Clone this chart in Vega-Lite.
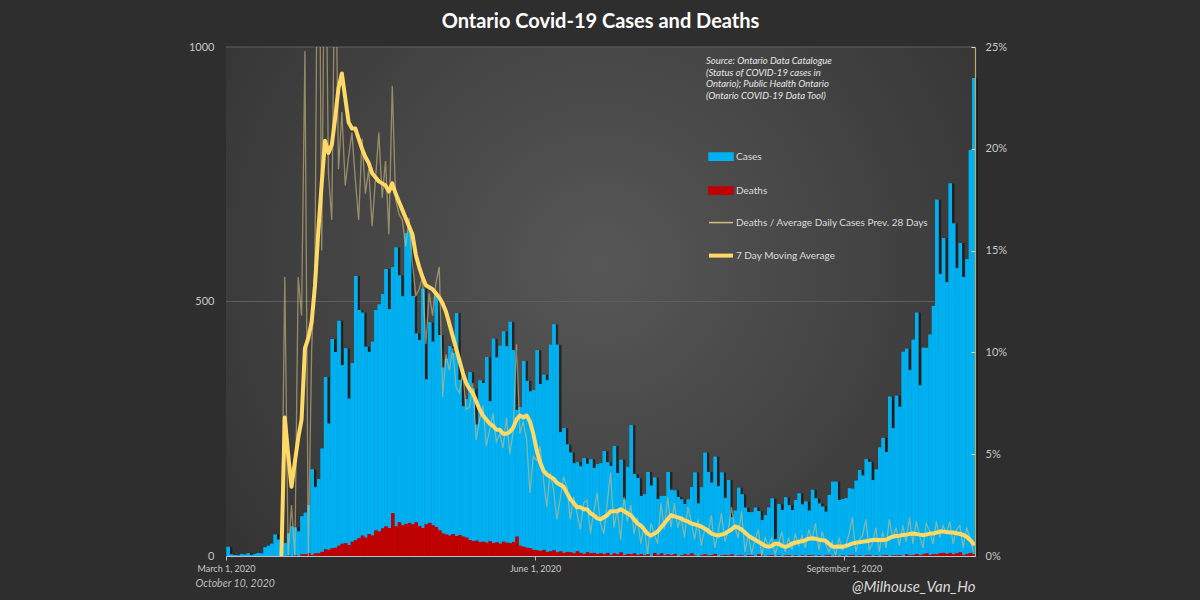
{
"$schema":"https://vega.github.io/schema/vega-lite/v6.json",
"width":749,"height":509,
"autosize":{"type":"none"},
"padding":{"left":226,"top":47,"right":225,"bottom":44},
"background":"#2e2e2e",
"config":{"view":{"stroke":null},"font":"Lato"},
"title":{"text":"Ontario Covid-19 Cases and Deaths","color":"#ffffff","fontSize":20,"fontWeight":"bold","font":"Lato","anchor":"middle","frame":"group","offset":9},
"data":{"values":[
{"date":"2020-03-01","cases":18,"deaths":0},
{"date":"2020-03-02","cases":3,"deaths":0},
{"date":"2020-03-03","cases":2,"deaths":0},
{"date":"2020-03-04","cases":1,"deaths":0},
{"date":"2020-03-05","cases":4,"deaths":0},
{"date":"2020-03-06","cases":3,"deaths":0},
{"date":"2020-03-07","cases":5,"deaths":0},
{"date":"2020-03-08","cases":2,"deaths":0},
{"date":"2020-03-09","cases":4,"deaths":0},
{"date":"2020-03-10","cases":6,"deaths":0},
{"date":"2020-03-11","cases":5,"deaths":0},
{"date":"2020-03-12","cases":17,"deaths":0},
{"date":"2020-03-13","cases":20,"deaths":0},
{"date":"2020-03-14","cases":24,"deaths":0},
{"date":"2020-03-15","cases":42,"deaths":0},
{"date":"2020-03-16","cases":32,"deaths":0},
{"date":"2020-03-17","cases":12,"deaths":1,"ratio":0,"ma":0},
{"date":"2020-03-18","cases":25,"deaths":0,"ratio":13.7,"ma":6.8},
{"date":"2020-03-19","cases":44,"deaths":1,"ratio":0,"ma":5.0},
{"date":"2020-03-20","cases":58,"deaths":0,"ratio":2.5,"ma":3.4},
{"date":"2020-03-21","cases":56,"deaths":2,"ratio":0,"ma":4.6},
{"date":"2020-03-22","cases":48,"deaths":0,"ratio":13.7,"ma":5.8},
{"date":"2020-03-23","cases":78,"deaths":3,"ratio":11.8,"ma":6.7},
{"date":"2020-03-24","cases":85,"deaths":3,"ratio":24.8,"ma":10.2},
{"date":"2020-03-25","cases":100,"deaths":5,"ratio":0,"ma":10.7},
{"date":"2020-03-26","cases":170,"deaths":2,"ratio":10.1,"ma":11.5},
{"date":"2020-03-27","cases":135,"deaths":5,"ratio":14.5,"ma":13.3},
{"date":"2020-03-28","cases":151,"deaths":5,"ratio":38,"ma":16.0},
{"date":"2020-03-29","cases":211,"deaths":8,"ratio":15.0,"ma":18.3},
{"date":"2020-03-30","cases":351,"deaths":13,"ratio":34,"ma":20.4},
{"date":"2020-03-31","cases":260,"deaths":12,"ratio":18.8,"ma":19.8},
{"date":"2020-04-01","cases":426,"deaths":15,"ratio":16.5,"ma":20.2},
{"date":"2020-04-02","cases":401,"deaths":16,"ratio":31,"ma":21.5},
{"date":"2020-04-03","cases":462,"deaths":20,"ratio":19.0,"ma":23.0},
{"date":"2020-04-04","cases":375,"deaths":24,"ratio":21.8,"ma":23.7},
{"date":"2020-04-05","cases":408,"deaths":25,"ratio":18.2,"ma":22.5},
{"date":"2020-04-06","cases":309,"deaths":21,"ratio":19.6,"ma":21.3},
{"date":"2020-04-07","cases":379,"deaths":28,"ratio":20.8,"ma":21.0},
{"date":"2020-04-08","cases":550,"deaths":31,"ratio":18.5,"ma":21.0},
{"date":"2020-04-09","cases":483,"deaths":35,"ratio":16.5,"ma":20.5},
{"date":"2020-04-10","cases":478,"deaths":40,"ratio":20.5,"ma":20.0},
{"date":"2020-04-11","cases":411,"deaths":36,"ratio":17.8,"ma":19.6},
{"date":"2020-04-12","cases":401,"deaths":43,"ratio":19.0,"ma":19.3},
{"date":"2020-04-13","cases":421,"deaths":40,"ratio":16.2,"ma":18.8},
{"date":"2020-04-14","cases":483,"deaths":50,"ratio":18.5,"ma":18.6},
{"date":"2020-04-15","cases":494,"deaths":48,"ratio":20.8,"ma":18.4},
{"date":"2020-04-16","cases":514,"deaths":54,"ratio":17.6,"ma":18.3},
{"date":"2020-04-17","cases":564,"deaths":58,"ratio":19.4,"ma":18.2},
{"date":"2020-04-18","cases":485,"deaths":55,"ratio":15.8,"ma":17.9},
{"date":"2020-04-19","cases":568,"deaths":84,"ratio":23.1,"ma":18.3},
{"date":"2020-04-20","cases":606,"deaths":58,"ratio":17.5,"ma":17.8},
{"date":"2020-04-21","cases":551,"deaths":66,"ratio":16.8,"ma":17.4},
{"date":"2020-04-22","cases":510,"deaths":60,"ratio":16.5,"ma":17.0},
{"date":"2020-04-23","cases":634,"deaths":63,"ratio":15.2,"ma":16.6},
{"date":"2020-04-24","cases":640,"deaths":65,"ratio":16.6,"ma":16.2},
{"date":"2020-04-25","cases":511,"deaths":62,"ratio":14.4,"ma":15.8},
{"date":"2020-04-26","cases":437,"deaths":66,"ratio":12.8,"ma":14.8},
{"date":"2020-04-27","cases":424,"deaths":59,"ratio":13.1,"ma":14.2},
{"date":"2020-04-28","cases":525,"deaths":55,"ratio":13.7,"ma":13.7},
{"date":"2020-04-29","cases":347,"deaths":62,"ratio":10.4,"ma":13.3},
{"date":"2020-04-30","cases":459,"deaths":65,"ratio":12.9,"ma":13.2},
{"date":"2020-05-01","cases":421,"deaths":60,"ratio":11.8,"ma":13.1},
{"date":"2020-05-02","cases":511,"deaths":57,"ratio":13.4,"ma":12.9},
{"date":"2020-05-03","cases":434,"deaths":50,"ratio":14.2,"ma":12.7},
{"date":"2020-05-04","cases":370,"deaths":44,"ratio":7.8,"ma":12.4},
{"date":"2020-05-05","cases":387,"deaths":42,"ratio":9.9,"ma":12.0},
{"date":"2020-05-06","cases":412,"deaths":40,"ratio":9.1,"ma":11.4},
{"date":"2020-05-07","cases":399,"deaths":43,"ratio":10.2,"ma":10.8},
{"date":"2020-05-08","cases":477,"deaths":39,"ratio":8.3,"ma":10.2},
{"date":"2020-05-09","cases":346,"deaths":41,"ratio":8.0,"ma":9.6},
{"date":"2020-05-10","cases":294,"deaths":38,"ratio":9.0,"ma":9.0},
{"date":"2020-05-11","cases":308,"deaths":36,"ratio":7.2,"ma":8.5},
{"date":"2020-05-12","cases":361,"deaths":31,"ratio":7.3,"ma":8.2},
{"date":"2020-05-13","cases":329,"deaths":29,"ratio":8.5,"ma":8.0},
{"date":"2020-05-14","cases":258,"deaths":30,"ratio":5.7,"ma":7.6},
{"date":"2020-05-15","cases":345,"deaths":27,"ratio":6.7,"ma":7.2},
{"date":"2020-05-16","cases":340,"deaths":28,"ratio":7.4,"ma":6.9},
{"date":"2020-05-17","cases":391,"deaths":26,"ratio":5.4,"ma":6.7},
{"date":"2020-05-18","cases":304,"deaths":29,"ratio":6.2,"ma":6.5},
{"date":"2020-05-19","cases":427,"deaths":25,"ratio":7.0,"ma":6.4},
{"date":"2020-05-20","cases":390,"deaths":27,"ratio":5.6,"ma":6.2},
{"date":"2020-05-21","cases":413,"deaths":24,"ratio":6.0,"ma":6.2},
{"date":"2020-05-22","cases":441,"deaths":28,"ratio":5.3,"ma":6.0},
{"date":"2020-05-23","cases":412,"deaths":26,"ratio":6.8,"ma":6.0},
{"date":"2020-05-24","cases":460,"deaths":25,"ratio":5.0,"ma":6.1},
{"date":"2020-05-25","cases":404,"deaths":27,"ratio":6.1,"ma":6.3},
{"date":"2020-05-26","cases":287,"deaths":38,"ratio":10.4,"ma":6.7},
{"date":"2020-05-27","cases":292,"deaths":20,"ratio":6.0,"ma":6.9},
{"date":"2020-05-28","cases":383,"deaths":18,"ratio":6.6,"ma":6.8},
{"date":"2020-05-29","cases":344,"deaths":16,"ratio":5.7,"ma":6.9},
{"date":"2020-05-30","cases":323,"deaths":15,"ratio":3.1,"ma":6.6},
{"date":"2020-05-31","cases":326,"deaths":12,"ratio":4.9,"ma":6.0},
{"date":"2020-06-01","cases":404,"deaths":11,"ratio":4.7,"ma":5.2},
{"date":"2020-06-02","cases":338,"deaths":10,"ratio":5.4,"ma":4.6},
{"date":"2020-06-03","cases":356,"deaths":12,"ratio":3.8,"ma":4.2},
{"date":"2020-06-04","cases":345,"deaths":8,"ratio":2.4,"ma":4.0},
{"date":"2020-06-05","cases":415,"deaths":9,"ratio":4.1,"ma":3.9},
{"date":"2020-06-06","cases":455,"deaths":11,"ratio":3.3,"ma":3.8},
{"date":"2020-06-07","cases":415,"deaths":7,"ratio":1.8,"ma":3.6},
{"date":"2020-06-08","cases":243,"deaths":9,"ratio":2.8,"ma":3.5},
{"date":"2020-06-09","cases":251,"deaths":6,"ratio":3.9,"ma":3.4},
{"date":"2020-06-10","cases":219,"deaths":8,"ratio":3.4,"ma":3.1},
{"date":"2020-06-11","cases":203,"deaths":7,"ratio":1.8,"ma":2.8},
{"date":"2020-06-12","cases":182,"deaths":5,"ratio":2.9,"ma":2.6},
{"date":"2020-06-13","cases":184,"deaths":9,"ratio":2.1,"ma":2.4},
{"date":"2020-06-14","cases":176,"deaths":6,"ratio":1.3,"ma":2.4},
{"date":"2020-06-15","cases":192,"deaths":4,"ratio":2.6,"ma":2.3},
{"date":"2020-06-16","cases":181,"deaths":7,"ratio":2.75,"ma":2.3},
{"date":"2020-06-17","cases":190,"deaths":5,"ratio":1.1,"ma":2.1},
{"date":"2020-06-18","cases":173,"deaths":6,"ratio":2.2,"ma":2.0},
{"date":"2020-06-19","cases":180,"deaths":4,"ratio":3.1,"ma":1.85},
{"date":"2020-06-20","cases":182,"deaths":5,"ratio":1.6,"ma":1.8},
{"date":"2020-06-21","cases":206,"deaths":3,"ratio":1.1,"ma":1.9},
{"date":"2020-06-22","cases":184,"deaths":6,"ratio":2.6,"ma":2.0},
{"date":"2020-06-23","cases":177,"deaths":2,"ratio":4.1,"ma":2.2},
{"date":"2020-06-24","cases":216,"deaths":5,"ratio":1.4,"ma":2.2},
{"date":"2020-06-25","cases":163,"deaths":3,"ratio":2.3,"ma":2.2},
{"date":"2020-06-26","cases":189,"deaths":7,"ratio":0.8,"ma":2.3},
{"date":"2020-06-27","cases":111,"deaths":2,"ratio":2.9,"ma":2.2},
{"date":"2020-06-28","cases":175,"deaths":4,"ratio":1.7,"ma":2.1},
{"date":"2020-06-29","cases":257,"deaths":3,"ratio":2.5,"ma":2.0},
{"date":"2020-06-30","cases":161,"deaths":5,"ratio":1.1,"ma":1.8},
{"date":"2020-07-01","cases":153,"deaths":2,"ratio":1.9,"ma":1.6},
{"date":"2020-07-02","cases":118,"deaths":4,"ratio":0.6,"ma":1.5},
{"date":"2020-07-03","cases":121,"deaths":1,"ratio":1.5,"ma":1.3},
{"date":"2020-07-04","cases":165,"deaths":3,"ratio":0.1,"ma":1.1},
{"date":"2020-07-05","cases":138,"deaths":0,"ratio":1.6,"ma":1.0},
{"date":"2020-07-06","cases":154,"deaths":6,"ratio":1.1,"ma":1.1},
{"date":"2020-07-07","cases":112,"deaths":2,"ratio":0.6,"ma":1.2},
{"date":"2020-07-08","cases":118,"deaths":5,"ratio":2.6,"ma":1.4},
{"date":"2020-07-09","cases":118,"deaths":1,"ratio":1.3,"ma":1.6},
{"date":"2020-07-10","cases":165,"deaths":3,"ratio":2.9,"ma":1.8},
{"date":"2020-07-11","cases":130,"deaths":2,"ratio":1.4,"ma":2.0},
{"date":"2020-07-12","cases":129,"deaths":4,"ratio":2.6,"ma":1.95},
{"date":"2020-07-13","cases":116,"deaths":0,"ratio":1.4,"ma":1.9},
{"date":"2020-07-14","cases":111,"deaths":1,"ratio":1.9,"ma":1.85},
{"date":"2020-07-15","cases":102,"deaths":3,"ratio":0.9,"ma":1.75},
{"date":"2020-07-16","cases":111,"deaths":2,"ratio":2.4,"ma":1.7},
{"date":"2020-07-17","cases":135,"deaths":5,"ratio":1.7,"ma":1.6},
{"date":"2020-07-18","cases":164,"deaths":1,"ratio":0.8,"ma":1.55},
{"date":"2020-07-19","cases":103,"deaths":0,"ratio":1.8,"ma":1.5},
{"date":"2020-07-20","cases":135,"deaths":2,"ratio":0.5,"ma":1.45},
{"date":"2020-07-21","cases":203,"deaths":3,"ratio":1.3,"ma":1.35},
{"date":"2020-07-22","cases":165,"deaths":1,"ratio":1.1,"ma":1.25},
{"date":"2020-07-23","cases":144,"deaths":2,"ratio":2.0,"ma":1.1},
{"date":"2020-07-24","cases":195,"deaths":4,"ratio":0.4,"ma":1.05},
{"date":"2020-07-25","cases":137,"deaths":0,"ratio":1.1,"ma":1.0},
{"date":"2020-07-26","cases":164,"deaths":1,"ratio":2.1,"ma":1.05},
{"date":"2020-07-27","cases":114,"deaths":2,"ratio":0.7,"ma":1.1},
{"date":"2020-07-28","cases":149,"deaths":1,"ratio":1.2,"ma":1.2},
{"date":"2020-07-29","cases":76,"deaths":3,"ratio":2.4,"ma":1.3},
{"date":"2020-07-30","cases":89,"deaths":0,"ratio":1.4,"ma":1.45},
{"date":"2020-07-31","cases":134,"deaths":1,"ratio":0.9,"ma":1.4},
{"date":"2020-08-01","cases":121,"deaths":1,"ratio":2.2,"ma":1.3},
{"date":"2020-08-02","cases":95,"deaths":0,"ratio":0.2,"ma":1.15},
{"date":"2020-08-03","cases":86,"deaths":2,"ratio":1.1,"ma":1.0},
{"date":"2020-08-04","cases":86,"deaths":1,"ratio":0.1,"ma":0.9},
{"date":"2020-08-05","cases":95,"deaths":0,"ratio":0.8,"ma":0.8},
{"date":"2020-08-06","cases":88,"deaths":3,"ratio":1.3,"ma":0.7},
{"date":"2020-08-07","cases":70,"deaths":1,"ratio":0.0,"ma":0.6},
{"date":"2020-08-08","cases":80,"deaths":0,"ratio":0.9,"ma":0.5},
{"date":"2020-08-09","cases":95,"deaths":1,"ratio":0.5,"ma":0.45},
{"date":"2020-08-10","cases":113,"deaths":2,"ratio":0.9,"ma":0.5},
{"date":"2020-08-11","cases":33,"deaths":0,"ratio":0.1,"ma":0.6},
{"date":"2020-08-12","cases":102,"deaths":1,"ratio":0.6,"ma":0.6},
{"date":"2020-08-13","cases":90,"deaths":0,"ratio":1.2,"ma":0.5},
{"date":"2020-08-14","cases":115,"deaths":1,"ratio":0.2,"ma":0.45},
{"date":"2020-08-15","cases":100,"deaths":2,"ratio":0.9,"ma":0.5},
{"date":"2020-08-16","cases":90,"deaths":0,"ratio":0.3,"ma":0.6},
{"date":"2020-08-17","cases":110,"deaths":1,"ratio":1.1,"ma":0.65},
{"date":"2020-08-18","cases":123,"deaths":0,"ratio":0.5,"ma":0.7},
{"date":"2020-08-19","cases":101,"deaths":1,"ratio":1.0,"ma":0.72},
{"date":"2020-08-20","cases":107,"deaths":0,"ratio":0.4,"ma":0.78},
{"date":"2020-08-21","cases":89,"deaths":2,"ratio":1.3,"ma":0.85},
{"date":"2020-08-22","cases":130,"deaths":1,"ratio":0.8,"ma":0.87},
{"date":"2020-08-23","cases":113,"deaths":0,"ratio":1.6,"ma":0.85},
{"date":"2020-08-24","cases":103,"deaths":1,"ratio":0.3,"ma":0.8},
{"date":"2020-08-25","cases":97,"deaths":0,"ratio":1.2,"ma":0.78},
{"date":"2020-08-26","cases":87,"deaths":1,"ratio":0.6,"ma":0.75},
{"date":"2020-08-27","cases":120,"deaths":2,"ratio":0.2,"ma":0.6},
{"date":"2020-08-28","cases":146,"deaths":0,"ratio":0.7,"ma":0.47},
{"date":"2020-08-29","cases":146,"deaths":1,"ratio":0.0,"ma":0.45},
{"date":"2020-08-30","cases":110,"deaths":0,"ratio":0.9,"ma":0.47},
{"date":"2020-08-31","cases":112,"deaths":1,"ratio":0.3,"ma":0.45},
{"date":"2020-09-01","cases":114,"deaths":0,"ratio":0.5,"ma":0.5},
{"date":"2020-09-02","cases":133,"deaths":1,"ratio":1.1,"ma":0.55},
{"date":"2020-09-03","cases":132,"deaths":2,"ratio":1.9,"ma":0.62},
{"date":"2020-09-04","cases":148,"deaths":0,"ratio":0.2,"ma":0.65},
{"date":"2020-09-05","cases":169,"deaths":1,"ratio":0.8,"ma":0.68},
{"date":"2020-09-06","cases":158,"deaths":0,"ratio":1.0,"ma":0.7},
{"date":"2020-09-07","cases":190,"deaths":1,"ratio":1.8,"ma":0.72},
{"date":"2020-09-08","cases":185,"deaths":2,"ratio":0.3,"ma":0.75},
{"date":"2020-09-09","cases":149,"deaths":0,"ratio":0.6,"ma":0.79},
{"date":"2020-09-10","cases":170,"deaths":1,"ratio":1.4,"ma":0.8},
{"date":"2020-09-11","cases":213,"deaths":0,"ratio":0.2,"ma":0.79},
{"date":"2020-09-12","cases":232,"deaths":1,"ratio":1.2,"ma":0.79},
{"date":"2020-09-13","cases":204,"deaths":2,"ratio":0.4,"ma":0.8},
{"date":"2020-09-14","cases":313,"deaths":0,"ratio":1.8,"ma":0.88},
{"date":"2020-09-15","cases":251,"deaths":1,"ratio":0.9,"ma":0.95},
{"date":"2020-09-16","cases":315,"deaths":1,"ratio":1.4,"ma":0.98},
{"date":"2020-09-17","cases":293,"deaths":2,"ratio":0.5,"ma":1.0},
{"date":"2020-09-18","cases":401,"deaths":0,"ratio":1.5,"ma":1.03},
{"date":"2020-09-19","cases":407,"deaths":3,"ratio":0.7,"ma":1.05},
{"date":"2020-09-20","cases":365,"deaths":1,"ratio":1.9,"ma":1.08},
{"date":"2020-09-21","cases":425,"deaths":2,"ratio":0.6,"ma":1.1},
{"date":"2020-09-22","cases":478,"deaths":4,"ratio":1.7,"ma":1.08},
{"date":"2020-09-23","cases":335,"deaths":1,"ratio":1.0,"ma":1.05},
{"date":"2020-09-24","cases":409,"deaths":3,"ratio":0.4,"ma":1.03},
{"date":"2020-09-25","cases":409,"deaths":5,"ratio":1.6,"ma":1.05},
{"date":"2020-09-26","cases":435,"deaths":2,"ratio":1.2,"ma":1.1},
{"date":"2020-09-27","cases":491,"deaths":4,"ratio":0.6,"ma":1.1},
{"date":"2020-09-28","cases":700,"deaths":3,"ratio":1.7,"ma":1.15},
{"date":"2020-09-29","cases":554,"deaths":5,"ratio":0.9,"ma":1.2},
{"date":"2020-09-30","cases":625,"deaths":6,"ratio":1.5,"ma":1.2},
{"date":"2020-10-01","cases":538,"deaths":4,"ratio":1.1,"ma":1.18},
{"date":"2020-10-02","cases":732,"deaths":6,"ratio":1.7,"ma":1.15},
{"date":"2020-10-03","cases":653,"deaths":3,"ratio":0.6,"ma":1.15},
{"date":"2020-10-04","cases":566,"deaths":5,"ratio":1.3,"ma":1.12},
{"date":"2020-10-05","cases":615,"deaths":7,"ratio":1.5,"ma":1.08},
{"date":"2020-10-06","cases":548,"deaths":2,"ratio":0.4,"ma":1.03},
{"date":"2020-10-07","cases":583,"deaths":4,"ratio":1.4,"ma":0.95},
{"date":"2020-10-08","cases":797,"deaths":6,"ratio":0.9,"ma":0.8},
{"date":"2020-10-09","cases":939,"deaths":3,"ratio":0.2,"ma":0.6}
]},
"layer":[
{"layer":[
 {"data":{"values":[{}]},"mark":{"type":"rect","fill":{"gradient":"radial","x1":0.5,"y1":0.45,"x2":0.5,"y2":0.45,"r1":0,"r2":0.75,"stops":[{"offset":0,"color":"#575757"},{"offset":1,"color":"#2d2d2d"}]}},"encoding":{}},
 {"data":{"values":[{"v":500},{"v":1000}]},"mark":{"type":"rule","color":"#5e5e5e","strokeWidth":1},"encoding":{"y":{"field":"v","type":"quantitative"}}},
 {"mark":{"type":"bar","color":"#141414","opacity":0.7,"xOffset":2.5,"binSpacing":0},"encoding":{
   "x":{"field":"date","timeUnit":"utcyearmonthdate","type":"temporal"},
   "y":{"field":"cases","type":"quantitative"}}},
 {"mark":{"type":"bar","binSpacing":0},"encoding":{
   "x":{"field":"date","timeUnit":"utcyearmonthdate","type":"temporal",
     "scale":{"domain":[{"year":2020,"month":3,"date":1,"utc":true},{"year":2020,"month":10,"date":10,"utc":true}]},
     "axis":{"values":[{"year":2020,"month":3,"date":1,"utc":true},{"year":2020,"month":6,"date":1,"utc":true},{"year":2020,"month":9,"date":1,"utc":true}],
       "format":"%B %-d, %Y","labelFontSize":9,"labelColor":"#c8c8c8","labelAlign":"center","labelFlush":false,"labelOverlap":false,"labelPadding":4,
       "domainColor":"#bfbfbf","tickColor":"#bfbfbf","tickSize":4,"grid":false,"zindex":1,
       "title":"October 10, 2020","titleFontStyle":"italic","titleFontWeight":"normal","titleFontSize":10.5,"titleColor":"#bdbdbd",
       "titleAlign":"left","titleAnchor":"start","titleX":-31,"titleY":27,"titleBaseline":"middle"}},
   "y":{"field":"cases","type":"quantitative","scale":{"domain":[0,1000],"nice":false},
     "axis":{"values":[0,500,1000],"format":"d","grid":false,"domain":false,"ticks":false,"labelColor":"#c8c8c8","labelFontSize":11,"labelPadding":12,"title":null,"zindex":1}},
   "color":{"datum":"Cases","type":"nominal",
     "scale":{"domain":["Cases","Deaths","Deaths / Average Daily Cases Prev. 28 Days","7 Day Moving Average"],"range":["#00B0F0","#C00000","#D2BE82","#FFD966"]},
     "legend":{"orient":"none","legendX":480,"legendY":9,"direction":"vertical","padding":0,
       "title":["Source: Ontario Data Catalogue","(Status of COVID-19 cases in","Ontario); Public Health Ontario","(Ontario COVID-19 Data Tool)"],
       "titleFontStyle":"italic","titleFontWeight":"normal","titleFontSize":9.5,"titleColor":"#e6e6e6","titleLineHeight":11.7,"titlePadding":51,"titleLimit":400,"titleFont":"Lato",
       "labelFontSize":10,"labelColor":"#dcdcdc","labelFont":"Lato","labelLimit":400,"labelOffset":10,"symbolOffset":10,
       "symbolSize":576,"rowPadding":20,
       "encode":{"symbols":{"update":{
         "shape":{"signal":"(datum.label === 'Cases' || datum.label === 'Deaths') ? 'M-1,-0.3H1V0.3H-1Z' : 'stroke'"},
         "fill":{"signal":"datum.label === 'Cases' ? '#00B0F0' : (datum.label === 'Deaths' ? '#C00000' : 'transparent')"},
         "stroke":{"signal":"datum.label === '7 Day Moving Average' ? '#FFD966' : ((datum.label === 'Cases' || datum.label === 'Deaths') ? 'transparent' : '#A8976A')"},
         "strokeWidth":{"signal":"datum.label === '7 Day Moving Average' ? 4 : 1.5"},
         "opacity":{"value":1}}}}}}}},
 {"mark":{"type":"bar","binSpacing":0,"color":"#00B0F0"},"encoding":{
   "x":{"field":"date","timeUnit":"utcyearmonthdate","type":"temporal"},
   "y":{"field":"cases","type":"quantitative"}}},
 {"mark":{"type":"bar","binSpacing":0},"encoding":{
   "x":{"field":"date","timeUnit":"utcyearmonthdate","type":"temporal"},
   "y":{"field":"deaths","type":"quantitative"},
   "color":{"datum":"Deaths","type":"nominal"}}},
 {"mark":{"type":"bar","binSpacing":0,"color":"#C00000"},"encoding":{
   "x":{"field":"date","timeUnit":"utcyearmonthdate","type":"temporal"},
   "y":{"field":"deaths","type":"quantitative"}}}
]},
{"layer":[
 {"mark":{"type":"line","strokeWidth":1.3,"opacity":0.6,"clip":true},"encoding":{
   "x":{"field":"date","timeUnit":"utcyearmonthdate","type":"temporal","bandPosition":0.5},
   "y":{"field":"ratio","type":"quantitative","scale":{"domain":[0,25],"nice":false},
     "axis":{"orient":"right","values":[0,5,10,15,20,25],"labelExpr":"datum.value + '%'","domainColor":"#c2ab5e","domainWidth":1.2,
       "tickColor":"#d8d8d8","tickSize":-4,"labelPadding":14,"labelColor":"#c8c8c8","labelFontSize":11,"grid":false,"zindex":1,
       "title":"@Milhouse_Van_Ho","titleAngle":0,"titleAlign":"right","titleBaseline":"middle","titleX":0,"titleY":539,
       "titleFontStyle":"italic","titleFontWeight":"normal","titleFontSize":15,"titleColor":"#d9d9d9"}},
   "color":{"datum":"Deaths / Average Daily Cases Prev. 28 Days","type":"nominal"}}},
 {"mark":{"type":"line","strokeWidth":4,"clip":true,"strokeJoin":"round","strokeCap":"round"},"encoding":{
   "x":{"field":"date","timeUnit":"utcyearmonthdate","type":"temporal","bandPosition":0.5},
   "y":{"field":"ma","type":"quantitative"},
   "color":{"datum":"7 Day Moving Average","type":"nominal"}}}
]}
],
"resolve":{"scale":{"y":"independent"}}
}
